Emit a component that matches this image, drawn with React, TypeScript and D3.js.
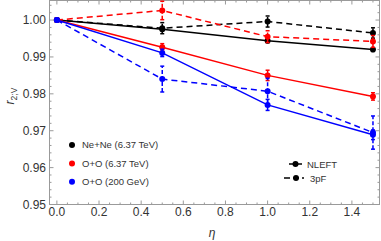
import React from "react";
import * as d3 from "d3";

const eta = [0, 0.5, 1.0, 1.5];
const neneNLEFT = [1.0, 0.9975, 0.9944, 0.992];
const neneNLEFTErr = [0, 0.0004, 0.0005, 0.0005];
const nene3pF = [1.0, 0.9978, 0.9996, 0.9965];
const nene3pFErr = [0, 0.0015, 0.0015, 0.0014];
const ooNLEFT = [1.0, 0.9926, 0.985, 0.9793];
const ooNLEFTErr = [0, 0.001, 0.0014, 0.001];
const oo3pF = [1.0, 1.0026, 0.9955, 0.9942];
const oo3pFErr = [0, 0.0025, 0.0016, 0.0016];
const oo200NLEFT = [1.0, 0.9911, 0.977, 0.9689];
const oo200NLEFTErr = [0, 0.001, 0.0015, 0.0013];
const oo2003pF = [1.0, 0.984, 0.9807, 0.9695];
const oo2003pFErr = [0, 0.0035, 0.0035, 0.0045];

const legendLabels = ["Ne+Ne (6.37 TeV)", "O+O (6.37 TeV)", "O+O (200 GeV)"];
const legendColors = ["#000000", "#ff0000", "#0000ff"];
const xTicks = [0, 0.2, 0.4, 0.6, 0.8, 1.0, 1.2, 1.4];
const yTicks = [0.95, 0.96, 0.97, 0.98, 0.99, 1.0];

const W = 381, H = 241;
const L = 49.5, R = 379.5, T = 0.5, B = 204.5;
const FONT = "Liberation Sans, Arial, sans-serif";

export default function App() {
  const x = d3.scaleLinear().domain([-0.035, 1.531]).range([L, R]);
  const y = d3.scaleLinear().domain([0.95, 1.0053]).range([B, T]);
  const line = d3.line<[number, number]>().x(d => x(d[0])).y(d => y(d[1]));

  const series = [
    { v: neneNLEFT, e: neneNLEFTErr, c: "#000", dash: false },
    { v: nene3pF, e: nene3pFErr, c: "#000", dash: true },
    { v: ooNLEFT, e: ooNLEFTErr, c: "#ff0000", dash: false },
    { v: oo3pF, e: oo3pFErr, c: "#ff0000", dash: true },
    { v: oo200NLEFT, e: oo200NLEFTErr, c: "#0000ff", dash: false },
    { v: oo2003pF, e: oo2003pFErr, c: "#0000ff", dash: true },
  ];

  const xMinor = d3.range(0, 1.5001, 0.05);
  const yMinor = d3.range(0.95, 1.0051, 0.002);
  const isMajorX = (t: number) => Math.abs(t * 5 - Math.round(t * 5)) < 1e-6;
  const isMajorY = (t: number) => Math.abs(t * 100 - Math.round(t * 100)) < 1e-6;
  const frameColor = "#9a9a9a";

  return (
    <svg width={W} height={H} style={{ position: "absolute", left: 0, top: 0 }} fontFamily={FONT}>
      <rect x={0} y={0} width={W} height={H} fill="#fff" />
      {/* frame */}
      <rect x={L} y={T} width={R - L} height={B - T} fill="none" stroke={frameColor} strokeWidth={1} />
      {xMinor.map((t, i) => {
        const len = isMajorX(t) ? 4 : 2;
        return (
          <g key={"xt" + i} stroke={frameColor} strokeWidth={1}>
            <line x1={x(t)} x2={x(t)} y1={B} y2={B - len} />
            <line x1={x(t)} x2={x(t)} y1={T} y2={T + len} />
          </g>
        );
      })}
      {yMinor.map((t, i) => {
        const len = isMajorY(t) ? 4 : 2;
        return (
          <g key={"yt" + i} stroke={frameColor} strokeWidth={1}>
            <line x1={L} x2={L + len} y1={y(t)} y2={y(t)} />
            <line x1={R} x2={R - len} y1={y(t)} y2={y(t)} />
          </g>
        );
      })}
      {xTicks.map((t, i) => (
        <text key={"xl" + i} x={x(t)} y={216} textAnchor="middle" fontSize={12} fill="#333">
          {t.toFixed(1)}
        </text>
      ))}
      {yTicks.map((t, i) => (
        <text key={"yl" + i} x={46} y={y(t) + 4.3} textAnchor="end" fontSize={12} fill="#333">
          {t.toFixed(2)}
        </text>
      ))}
      {/* axis labels */}
      <text x={212} y={237} textAnchor="middle" fontSize={12} fontStyle="italic" fill="#333">η</text>
      <text transform="translate(14,96) rotate(-90)" textAnchor="middle" fontSize={12} fill="#333">
        <tspan fontStyle="italic">r</tspan>
        <tspan fontSize={8.5} dy={3}>2;V</tspan>
      </text>
      {/* data */}
      {series.map((s, si) => {
        const pts: [number, number][] = eta.map((e, i) => [e, s.v[i]]);
        return (
          <g key={"s" + si}>
            <path d={line(pts) || ""} fill="none" stroke={s.c} strokeWidth={1.5}
              strokeDasharray={s.dash ? "6,4" : undefined} />
            {pts.map((p, i) => s.e[i] > 0 ? (
              <g key={"e" + i} stroke={s.c} strokeWidth={1.5}>
                <line x1={x(p[0])} x2={x(p[0])} y1={y(p[1] - s.e[i])} y2={y(p[1] + s.e[i])}
                  strokeDasharray={s.dash ? "4,2" : undefined} />
                <line x1={x(p[0]) - 2} x2={x(p[0]) + 2} y1={y(p[1] - s.e[i])} y2={y(p[1] - s.e[i])} />
                <line x1={x(p[0]) - 2} x2={x(p[0]) + 2} y1={y(p[1] + s.e[i])} y2={y(p[1] + s.e[i])} />
              </g>
            ) : null)}
            {pts.map((p, i) => (
              <circle key={"c" + i} cx={x(p[0])} cy={y(p[1])} r={3} fill={s.c} />
            ))}
          </g>
        );
      })}
      {/* legend 1 */}
      {legendLabels.map((lab, i) => (
        <g key={"lg" + i}>
          <circle cx={72} cy={145 + i * 18.4} r={3} fill={legendColors[i]} />
          <text x={82} y={145 + i * 18.4 + 3.3} fontSize={9.5} fill="#333">{lab}</text>
        </g>
      ))}
      {/* legend 2 */}
      <g>
        <line x1={289} x2={302} y1={164} y2={164} stroke="#000" strokeWidth={1.5} />
        <circle cx={295.5} cy={164} r={3} fill="#000" />
        <text x={307} y={167.5} fontSize={9.5} fill="#333">NLEFT</text>
        <line x1={284} x2={304} y1={178} y2={178} stroke="#000" strokeWidth={1.5} strokeDasharray="6,3" />
        <circle cx={296} cy={178} r={3} fill="#000" />
        <text x={310} y={181.5} fontSize={9.5} fill="#333">3pF</text>
      </g>
    </svg>
  );
}
